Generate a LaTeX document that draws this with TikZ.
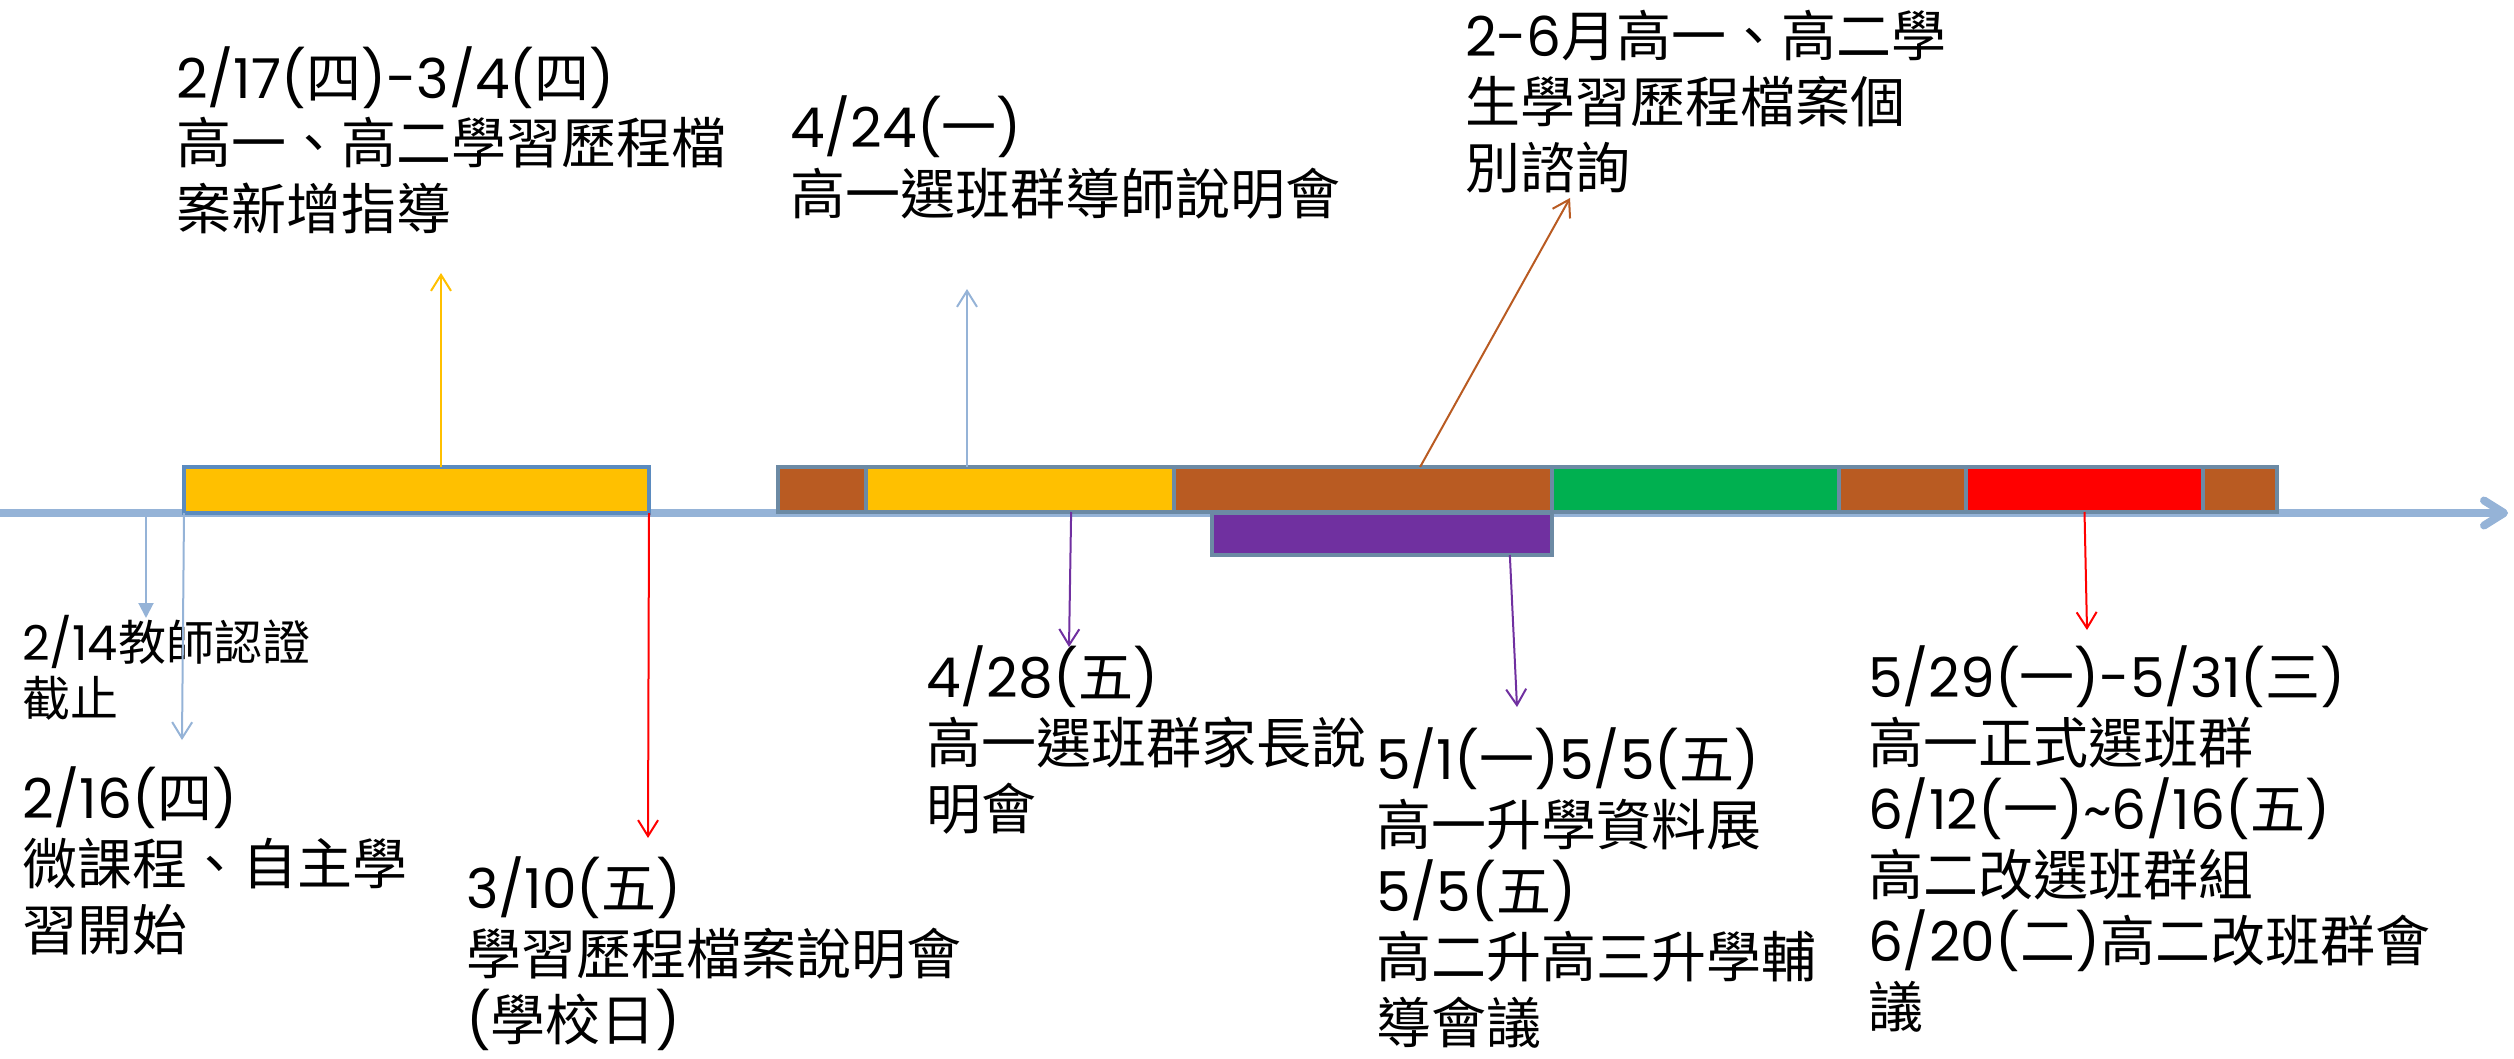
\documentclass[tikz,border=0pt]{standalone}
\usepackage{fontspec}
\setmainfont{Noto Sans CJK TC}
\newfontfamily\latf{Poppins}
\usetikzlibrary{arrows.meta,calc}
\newcommand\latrun[1]{{\latf #1}}
\definecolor{axisblue}{HTML}{95B3D7}
\definecolor{boxline}{HTML}{5B8BBF}
\definecolor{segline}{HTML}{6C8AA4}
\definecolor{gold}{HTML}{FFC000}
\definecolor{rust}{HTML}{B95B22}
\definecolor{grn}{HTML}{00B050}
\definecolor{purp}{HTML}{7030A0}
\definecolor{rd}{HTML}{FF0000}
\begin{document}
\begin{tikzpicture}[x=0.5pt,y=-0.5pt,
  bigtxt/.style={anchor=base west, inner sep=0pt, outer sep=0pt, align=left, font={\fontsize{27.5}{33}\selectfont}},
  smalltxt/.style={anchor=base west, inner sep=0pt, outer sep=0pt, align=left, font={\fontsize{24}{28}\selectfont}},
  seg/.style={draw=segline, line width=1.75pt, minimum height=22.5pt, inner sep=0pt, outer sep=0pt, anchor=north west},
  conn/.style={line width=1pt, -{Straight Barb[length=8pt,width=10pt]}}]
\path[use as bounding box] (0,0) rectangle (2514,1059);
% axis
\coordinate (axL) at (0,513);
\coordinate (axR) at (2508,513);
\draw[axisblue, line width=4pt, -{Straight Barb[length=10pt,width=12.5pt,round]}] (axL) -- (axR);
% first box
\node[seg, draw=boxline, fill=gold, minimum width=232.5pt, minimum height=23pt] (b1) at (184,467) {};
% purple box (behind bar)
\node[seg, fill=purp, minimum width=170pt, minimum height=21pt] (pb) at (1212,513) {};
% bar segments
\node[seg, fill=rust, minimum width=44pt] (s1) at (778,467) {};
\node[seg, fill=gold, minimum width=154pt] (s2) at (866,467) {};
\node[seg, fill=rust, minimum width=189pt] (s3) at (1174,467) {};
\node[seg, fill=grn, minimum width=143.5pt] (s4) at (1552,467) {};
\node[seg, fill=rust, minimum width=63.5pt] (s5) at (1839,467) {};
\node[seg, fill=rd, minimum width=118.5pt] (s6) at (1966,467) {};
\node[seg, fill=rust, minimum width=37pt] (s7) at (2203,467) {};
% texts (anchored at the baseline of their last line)
\node[bigtxt] (tA) at (176,230) {\latrun{2/17(}四\latrun{)-3/4(}四\latrun{)}\\高一、高二學習歷程檔\\案新增指導};
\node[bigtxt] (tB) at (790,214) {\latrun{4/24(}一\latrun{)}\\高一選班群導師說明會};
\node[bigtxt] (tC) at (1465,189) {\latrun{2-6}月高一、高二學\\生學習歷程檔案個\\別諮詢};
\node[smalltxt] (tD) at (22,716) {\latrun{2/14}教師認證\\截止};
\node[bigtxt] (tE) at (22,950) {\latrun{2/16(}四\latrun{)}\\微課程、自主學\\習開始};
\node[bigtxt] (tF) at (466,1040) {\latrun{3/10(}五\latrun{)}\\學習歷程檔案說明會\\\latrun{(}學校日\latrun{)}};
\node[bigtxt] (tG) at (926,829) {\latrun{4/28(}五\latrun{)}\\高一選班群家長說\\明會};
\node[bigtxt] (tH) at (1376,1043) {\latrun{5/1(}一\latrun{)5/5(}五\latrun{)}\\高一升學資料展\\\latrun{5/5(}五\latrun{)}\\高二升高三升學輔\\導會議};
\node[bigtxt] (tI) at (1868,1027) {\latrun{5/29(}一\latrun{)-5/31(}三\latrun{)}\\高一正式選班群\\\latrun{6/12(}一\latrun{)\textasciitilde6/16(}五\latrun{)}\\高二改選班群組\\\latrun{6/20(}二\latrun{)}高二改班群會\\議};
% arrow ends
\coordinate (eA) at (441,273);
\coordinate (eB) at (967,289);
\coordinate (eC) at (1570,198);
\coordinate (eD) at (146,618);
\coordinate (eE) at (182,740);
\coordinate (eF) at (648,838);
\coordinate (eG) at (1069,647);
\coordinate (eH) at (1517,707);
\coordinate (eI) at (2087,630);
% connectors
\draw[conn, gold] (eA |- b1.north) -- (eA);
\draw[conn, axisblue] (eB |- s2.north) -- (eB);
\draw[conn, rust] ($(s3.north west)!0.651!(s3.north east)$) -- (eC);
\draw[line width=1pt, axisblue, -{Triangle[length=7.5pt,width=7.5pt]}] ($(eD |- axL)+(0,4)$) -- (eD);
\draw[conn, axisblue] (b1.south west) -- (eE);
\draw[conn, rd] (b1.south east) -- (eF);
\draw[conn, purp] ($(s2.south west)!0.666!(s2.south east)$) -- (eG);
\draw[conn, purp] ($(pb.south west)!0.876!(pb.south east)$) -- (eH);
\draw[conn, rd] (s6.south) -- (eI);
\end{tikzpicture}
\end{document}
